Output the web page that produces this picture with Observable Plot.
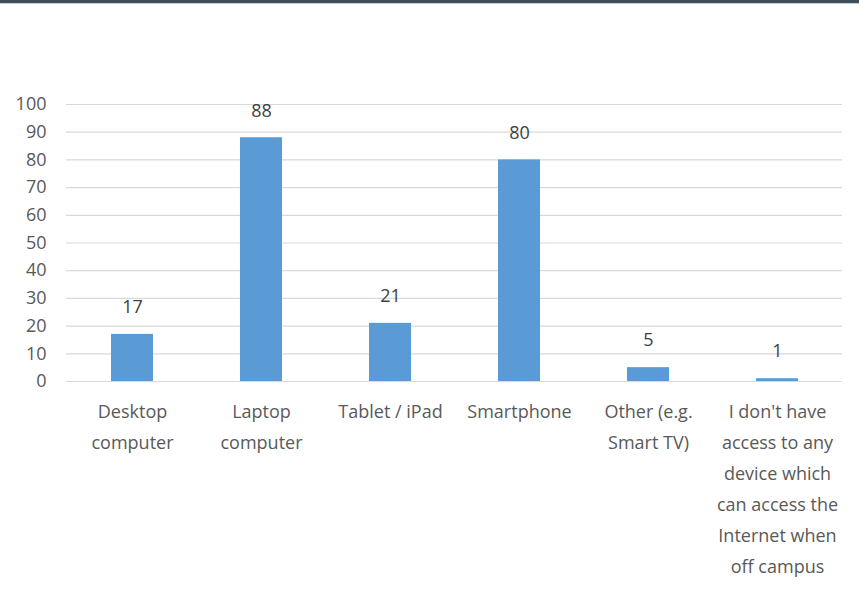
<!DOCTYPE html>
<html>
<head>
<meta charset="utf-8">
<script src="https://cdn.jsdelivr.net/npm/d3@7"></script>
<script src="https://cdn.jsdelivr.net/npm/@observablehq/plot@0.6"></script>
<style>
  html, body { margin: 0; padding: 0; background: #fff; }
  #topbar { height: 3px; background: #3d4f5a; border-bottom: 1px solid #c8cdd0; }
  #chart svg { display: block; }
</style>
</head>
<body>
<div id="topbar"></div>
<div id="chart"></div>
<script>
const categories = [
  "Desktop computer",
  "Laptop computer",
  "Tablet / iPad",
  "Smartphone",
  "Other (e.g. Smart TV)",
  "I don't have access to any device which can access the Internet when off campus"
];
const values = [17, 88, 21, 80, 5, 1];
const tickLabels = [
  "Desktop\ncomputer",
  "Laptop\ncomputer",
  "Tablet / iPad",
  "Smartphone",
  "Other (e.g.\nSmart TV)",
  "I don't have\naccess to any\ndevice which\ncan access the\nInternet when\noff campus"
];
const yTicks = [0, 10, 20, 30, 40, 50, 60, 70, 80, 90, 100];

const data = categories.map((c, i) => ({category: c, value: values[i]}));
const labelOf = new Map(categories.map((c, i) => [c, tickLabels[i]]));

const chart = Plot.plot({
  width: 859,
  height: 588,
  marginTop: 100,
  marginBottom: 211,
  marginLeft: 66,
  marginRight: 17,
  style: {fontFamily: "'Open Sans', sans-serif", fontSize: "18px", color: "#595959", background: "#fff"},
  x: {domain: categories, paddingInner: 0.675, paddingOuter: 0.3375, label: null},
  y: {domain: [0, 100], label: null},
  marks: [
    Plot.gridY(yTicks, {stroke: "#d9d9d9", strokeOpacity: 1, strokeWidth: 1.2}),
    Plot.barY(data, {x: "category", y: "value", fill: "#5b9bd5"}),
    Plot.text(data, {x: "category", y: "value", text: d => String(d.value), dy: -27, fill: "#404040", fontSize: 18}),
    Plot.axisY(yTicks, {tickSize: 0, tickPadding: 20, fontSize: 18, fill: "#595959", label: null}),
    Plot.axisX({tickSize: 0, tickPadding: 15, fontSize: 18, fill: "#595959", lineHeight: 1.72, tickFormat: d => labelOf.get(d), label: null})
  ]
});
document.getElementById("chart").appendChild(chart);
</script>
</body>
</html>
